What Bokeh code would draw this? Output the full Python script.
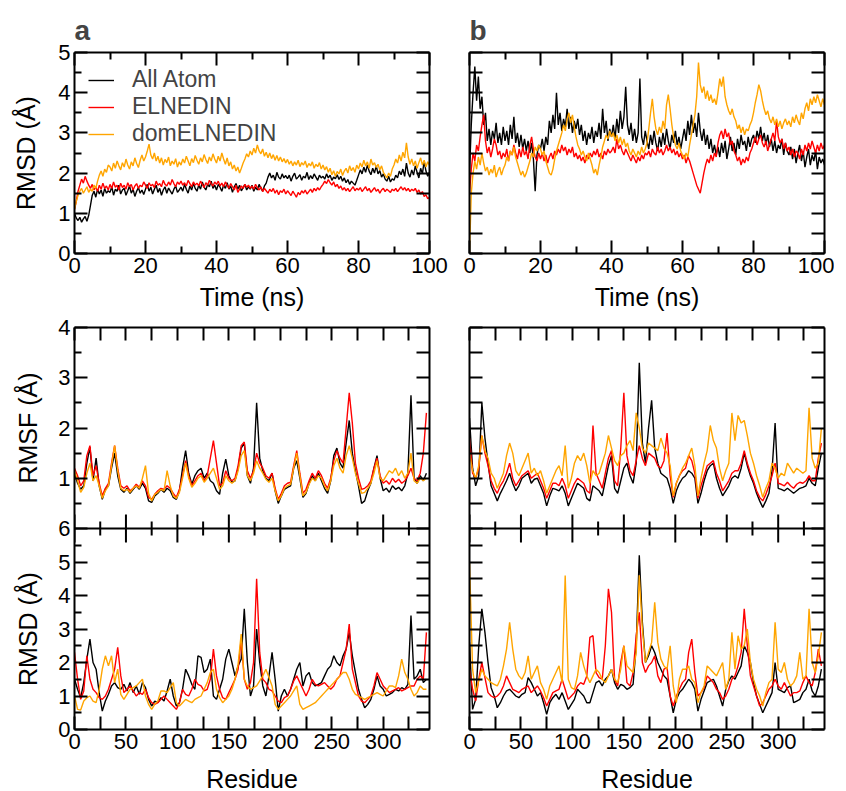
import math
from bokeh.plotting import figure
from bokeh.models import Range1d, LinearAxis, FixedTicker, Legend, LegendItem, Label, Span
from bokeh.layouts import row, column
from bokeh.embed import file_html
from bokeh.resources import INLINE

FONT = "Liberation Sans"
C_AA = "#000000"
C_EL = "#ff0000"
C_DOM = "#ffa500"
SERIES_NAMES = ["All Atom", "ELNEDIN", "domELNEDIN"]

# ---------------- tick values ----------------
TIME_MAJOR = [0, 20, 40, 60, 80, 100]
TIME_MINOR = [10, 30, 50, 70, 90]
RMSD_T_MAJOR = [0, 1, 2, 3, 4, 5]
RMSD_T_MINOR = [0.5, 1.5, 2.5, 3.5, 4.5]
RES_MAJOR = [0, 50, 100, 150, 200, 250, 300]
RES_MINOR = [25, 75, 125, 175, 225, 275, 325]
RMSD_R_MAJOR = [0, 1, 2, 3, 4, 5, 6]
RMSD_R_MINOR = [0.5, 1.5, 2.5, 3.5, 4.5, 5.5]
RMSF_MAJOR = [1, 2, 3, 4]
RMSF_MINOR = [0.5, 1.5, 2.5, 3.5]

# ---------------- sampling grids ----------------
TIME_NS = [i * 0.5 for i in range(201)]
RESIDUE = list(range(0, 343, 3))

# ---------------- panel a : RMSD vs time ----------------
AA_T_A = [1.00, 0.88, 0.82, 0.90, 0.78, 0.86, 0.92, 0.80, 0.95, 1.20, 1.45, 1.55, 1.40, 1.60, 1.48, 1.58, 1.42, 1.62, 1.50, 1.56,
          1.52, 1.66, 1.45, 1.60, 1.55, 1.70, 1.48, 1.58, 1.62, 1.45, 1.56, 1.68, 1.50, 1.60, 1.42, 1.55, 1.64, 1.50, 1.58, 1.47,
          1.60, 1.72, 1.55, 1.65, 1.48, 1.60, 1.70, 1.52, 1.62, 1.45, 1.58, 1.66, 1.50, 1.63, 1.55, 1.48, 1.60, 1.68, 1.52, 1.58,
          1.65, 1.55, 1.72, 1.60, 1.50, 1.68, 1.58, 1.75, 1.62, 1.55, 1.70, 1.60, 1.78, 1.65, 1.58, 1.72, 1.66, 1.80, 1.62, 1.70,
          1.58, 1.72, 1.65, 1.55, 1.70, 1.62, 1.76, 1.60, 1.68, 1.52, 1.66, 1.74, 1.60, 1.70, 1.56, 1.64, 1.72, 1.58, 1.66, 1.60,
          1.70, 1.55, 1.65, 1.58, 1.72, 1.62, 1.55, 1.68, 1.75, 1.90, 2.00, 1.88, 1.95, 1.82, 2.02, 1.90, 1.85, 1.98, 1.88, 1.94,
          1.86, 1.95, 1.80, 1.92, 2.00, 1.85, 1.90, 1.96, 1.82, 1.92, 1.88, 2.02, 1.84, 1.94, 1.86, 1.98, 1.90, 1.82, 1.95, 1.88,
          1.92, 1.85, 1.98, 1.88, 1.95, 1.82, 1.90, 1.86, 1.96, 1.84, 1.92, 1.80, 1.88, 1.76, 1.84, 1.72, 1.80, 1.75, 1.70, 1.82,
          1.95, 2.08, 1.98, 2.15, 2.02, 2.20, 2.05, 1.96, 2.12, 2.00, 2.18, 1.98, 2.06, 1.90, 1.98, 1.85, 1.80, 1.92, 1.78, 1.86,
          1.82, 1.95, 1.88, 2.05, 1.96, 2.10, 1.92, 2.25, 2.00, 1.90, 2.08, 1.95, 2.18, 2.02, 1.88, 2.12, 1.98, 2.30, 2.05, 1.92,
          2.02]
EL_T_A = [1.10, 1.30, 1.55, 1.70, 1.85, 1.75, 1.92, 1.80, 1.70, 1.62, 1.72, 1.58, 1.65, 1.55, 1.70, 1.60, 1.75, 1.62, 1.68, 1.58,
          1.72, 1.62, 1.78, 1.65, 1.70, 1.58, 1.75, 1.64, 1.70, 1.60, 1.76, 1.66, 1.72, 1.58, 1.68, 1.74, 1.62, 1.70, 1.66, 1.78,
          1.70, 1.62, 1.76, 1.68, 1.72, 1.64, 1.80, 1.70, 1.74, 1.66, 1.82, 1.72, 1.68, 1.78, 1.70, 1.84, 1.74, 1.66, 1.78, 1.72,
          1.80, 1.70, 1.76, 1.68, 1.82, 1.74, 1.66, 1.78, 1.70, 1.75, 1.68, 1.80, 1.72, 1.64, 1.76, 1.70, 1.82, 1.74, 1.68, 1.78,
          1.72, 1.80, 1.68, 1.75, 1.66, 1.78, 1.70, 1.62, 1.74, 1.66, 1.58, 1.70, 1.52, 1.60, 1.68, 1.62, 1.72, 1.65, 1.70, 1.62,
          1.68, 1.60, 1.72, 1.64, 1.58, 1.66, 1.54, 1.62, 1.56, 1.50, 1.60, 1.54, 1.62, 1.50, 1.58, 1.46, 1.56, 1.52, 1.60, 1.48,
          1.56, 1.50, 1.44, 1.55, 1.48, 1.40, 1.52, 1.46, 1.56, 1.50, 1.58, 1.48, 1.54, 1.60, 1.52, 1.62, 1.56, 1.64, 1.58, 1.66,
          1.72, 1.80, 1.74, 1.84, 1.76, 1.70, 1.78, 1.66, 1.72, 1.62, 1.68, 1.58, 1.64, 1.56, 1.62, 1.54, 1.60, 1.66, 1.56, 1.62,
          1.58, 1.64, 1.54, 1.60, 1.66, 1.56, 1.62, 1.52, 1.58, 1.64, 1.55, 1.60, 1.50, 1.58, 1.62, 1.54, 1.60, 1.56, 1.52, 1.60,
          1.56, 1.62, 1.54, 1.60, 1.66, 1.58, 1.64, 1.56, 1.62, 1.54, 1.60, 1.56, 1.62, 1.52, 1.58, 1.48, 1.54, 1.42, 1.46, 1.36,
          1.40]
DOM_T_A = [1.10, 1.30, 1.45, 1.55, 1.62, 1.50, 1.58, 1.66, 1.52, 1.60, 1.55, 1.70, 1.62, 1.80, 1.95, 2.05, 1.92, 2.10, 2.02, 2.20,
           2.15, 2.05, 2.25, 2.12, 2.30, 2.18, 2.08, 2.26, 2.15, 2.35, 2.20, 2.10, 2.28, 2.18, 2.38, 2.24, 2.14, 2.32, 2.45, 2.30,
           2.40, 2.55, 2.72, 2.45, 2.35, 2.50, 2.30, 2.42, 2.25, 2.38, 2.20, 2.34, 2.26, 2.40, 2.18, 2.30, 2.22, 2.36, 2.15, 2.28,
           2.20, 2.35, 2.25, 2.42, 2.30, 2.18, 2.36, 2.26, 2.44, 2.32, 2.22, 2.38, 2.28, 2.46, 2.34, 2.24, 2.40, 2.30, 2.48, 2.35,
           2.25, 2.42, 2.30, 2.50, 2.35, 2.22, 2.38, 2.18, 2.28, 2.10, 2.20, 2.05, 2.15, 2.00, 2.12, 2.25, 2.35, 2.48, 2.40, 2.55,
           2.45, 2.62, 2.50, 2.70, 2.55, 2.48, 2.60, 2.42, 2.52, 2.38, 2.50, 2.36, 2.46, 2.32, 2.44, 2.30, 2.40, 2.28, 2.36, 2.25,
           2.34, 2.22, 2.30, 2.18, 2.28, 2.20, 2.32, 2.16, 2.26, 2.20, 2.30, 2.14, 2.24, 2.18, 2.28, 2.12, 2.22, 2.16, 2.26, 2.10,
           2.20, 2.08, 2.16, 2.02, 2.12, 1.96, 2.06, 1.92, 2.04, 1.98, 2.10, 1.94, 2.05, 2.12, 2.00, 2.18, 2.06, 2.14, 2.02, 2.20,
           2.10, 2.25, 2.15, 2.32, 2.18, 2.28, 2.12, 2.35, 2.20, 2.26, 2.14, 2.22, 2.08, 2.18, 2.02, 1.95, 1.88, 2.00, 1.92, 2.10,
           2.20, 2.35, 2.25, 2.45, 2.30, 2.52, 2.38, 2.75, 2.40, 2.22, 2.35, 2.18, 2.30, 2.12, 2.26, 2.38, 2.20, 2.32, 2.15, 2.28,
           2.20]

# ---------------- panel b : RMSD vs time ----------------
AA_T_B = [2.00, 3.20, 4.00, 4.65, 3.80, 4.40, 3.60, 3.90, 3.20, 3.50, 2.80, 3.10, 2.70, 3.05, 2.85, 3.25, 2.75, 3.00, 2.70, 3.15,
          2.80, 3.05, 2.70, 3.20, 2.85, 3.40, 2.75, 3.00, 2.65, 2.95, 2.60, 2.85, 2.55, 2.80, 2.50, 2.75, 2.35, 1.55, 2.45, 2.70,
          2.60, 2.85, 2.55, 2.90, 2.70, 3.30, 3.00, 3.45, 3.10, 4.00, 3.20, 3.50, 3.05, 3.35, 3.15, 3.60, 3.10, 3.40, 3.00, 3.30,
          3.10, 3.35, 2.95, 3.20, 2.80, 3.05, 2.70, 3.00, 2.85, 3.15, 2.75, 3.05, 2.90, 3.25, 2.85, 3.60, 3.00, 3.30, 2.80, 3.10,
          2.90, 3.20, 2.85, 3.35, 3.00, 3.55, 3.10, 3.40, 4.15, 3.20, 2.95, 3.25, 2.80, 3.10, 2.75, 3.00, 4.35, 2.90, 2.70, 3.05,
          2.80, 2.60, 2.95, 2.70, 3.05, 2.75, 2.55, 2.90, 2.65, 3.00, 2.70, 3.10, 2.80, 2.60, 2.95, 2.75, 3.05, 2.70, 2.90, 2.60,
          2.85, 3.10, 2.80, 3.30, 2.95, 3.45, 3.00, 3.25, 2.90, 3.50, 3.05, 2.80, 3.10, 2.70, 2.95, 2.60, 2.85, 2.50, 2.70, 2.45,
          2.65, 2.40, 2.75, 2.50, 2.80, 2.35, 2.60, 2.90, 2.55, 2.75, 2.45, 2.85, 2.60, 2.95, 2.70, 2.80, 2.55, 2.90, 2.65, 2.85,
          2.95, 2.75, 3.05, 2.85, 3.15, 2.80, 3.00, 2.70, 2.95, 2.65, 2.85, 2.55, 2.80, 2.50, 2.70, 2.60, 2.85, 2.45, 2.75, 2.55,
          2.45, 2.65, 2.35, 2.60, 2.25, 2.50, 2.70, 2.30, 2.55, 2.15, 2.40, 2.60, 2.20, 2.45, 2.30, 2.55, 2.10, 2.40, 2.25, 2.35,
          2.20]
EL_T_B = [1.50, 2.10, 2.50, 2.30, 2.70, 2.55, 2.90, 3.20, 3.45, 2.80, 2.50, 2.65, 2.40, 2.60, 2.85, 2.70, 2.45, 2.55, 2.35, 2.50,
          2.40, 2.60, 2.30, 2.55, 2.45, 2.70, 2.50, 2.35, 2.60, 2.40, 2.65, 2.45, 2.55, 2.35, 2.70, 2.90, 2.60, 2.40, 2.30, 2.50,
          2.35, 2.50, 2.30, 2.45, 2.25, 2.40, 2.50, 2.35, 2.55, 2.45, 2.60, 2.50, 2.70, 2.55, 2.65, 2.45, 2.60, 2.50, 2.65, 2.40,
          2.50, 2.35, 2.45, 2.30, 2.40, 2.25, 2.45, 2.35, 2.50, 2.40, 2.55, 2.45, 2.60, 2.40, 2.50, 2.35, 2.55, 2.45, 2.60, 2.50,
          2.55, 2.65, 2.50, 2.85, 2.60, 2.70, 2.55, 2.45, 2.60, 2.50, 2.40, 2.30, 2.45, 2.35, 2.25, 2.40, 2.30, 2.45, 2.35, 2.50,
          2.45, 2.55, 2.40, 2.60, 2.50, 2.45, 2.65, 2.50, 2.60, 2.45, 2.55, 2.70, 2.55, 2.65, 2.50, 2.60, 2.45, 2.55, 2.40, 2.50,
          2.35, 2.45, 2.25, 2.40, 2.30, 2.15, 2.00, 1.85, 1.70, 1.60, 1.50, 1.75, 2.00, 2.20, 2.35, 2.25, 2.45, 2.30, 2.50, 2.40,
          2.75, 2.95, 3.05, 2.85, 3.10, 2.90, 3.00, 2.70, 2.80, 2.55, 2.45, 2.30, 2.40, 2.20, 2.35, 2.25, 2.40, 2.30, 2.50, 2.60,
          2.75, 2.90, 2.70, 2.85, 2.95, 2.75, 2.65, 2.80, 2.55, 2.70, 2.85, 3.00, 2.80, 3.30, 2.90, 2.75, 2.85, 2.60, 2.75, 2.55,
          2.65, 2.45, 2.60, 2.40, 2.55, 2.50, 2.35, 2.60, 2.45, 2.70, 2.55, 2.75, 2.60, 2.80, 2.65, 2.50, 2.70, 2.55, 2.75, 2.60,
          2.70]
DOM_T_B = [0.00, 1.50, 2.00, 2.30, 2.10, 2.40, 2.20, 2.50, 2.25, 2.05, 2.15, 1.95, 2.10, 2.00, 2.20, 1.90, 2.05, 2.15, 1.95, 2.10,
           2.20, 2.40, 2.30, 2.55, 2.45, 2.65, 2.40, 2.25, 2.10, 1.95, 2.05, 1.90, 2.00, 2.15, 2.30, 2.50, 2.40, 2.65, 2.55, 2.70,
           2.60, 2.45, 2.55, 2.30, 2.15, 2.00, 1.95, 2.10, 2.35, 2.55, 2.70, 2.85, 3.00, 3.20, 3.05, 3.35, 3.50, 3.25, 3.45, 3.15,
           2.90, 2.70, 2.60, 2.45, 2.55, 2.40, 2.30, 2.50, 2.35, 2.20, 2.00, 2.10, 1.95, 2.20, 2.40, 2.65, 2.80, 2.95, 2.85, 3.05,
           2.90, 3.00, 2.80, 2.95, 2.75, 2.90, 2.70, 2.85, 2.65, 2.75, 2.55, 2.45, 2.60, 2.50, 2.40, 2.55, 2.45, 2.65, 2.50, 2.60,
           2.75, 3.10, 3.50, 3.85, 3.40, 3.10, 2.95, 3.15, 3.00, 3.30, 3.10, 3.70, 3.95, 3.60, 3.20, 2.90, 2.70, 2.60, 2.75, 2.55,
           2.45, 2.35, 2.50, 2.40, 2.70, 2.95, 3.20, 3.45, 3.90, 4.75, 4.20, 4.00, 4.15, 3.85, 4.05, 3.80, 3.95, 3.75, 3.85, 3.70,
           4.00, 4.35, 4.15, 4.40, 3.90, 3.70, 3.55, 3.45, 3.60, 3.40, 3.30, 3.10, 3.20, 3.00, 3.15, 2.95, 3.10, 3.05, 3.20, 3.30,
           3.50, 3.75, 3.95, 4.20, 4.05, 3.80, 3.60, 3.45, 3.55, 3.35, 3.25, 3.40, 3.20, 3.35, 3.15, 3.30, 3.10, 3.25, 3.35, 3.20,
           3.30, 3.15, 3.40, 3.25, 3.45, 3.30, 3.20, 3.50, 3.35, 3.60, 3.75, 3.55, 3.85, 3.70, 3.90, 3.75, 3.95, 3.80, 3.65, 3.85,
           3.70]

# ---------------- panel a : RMSF per residue ----------------
AA_F_A = [1.10, 0.90, 0.78, 0.85, 1.30, 1.62, 0.95, 1.40, 0.85, 0.58,
          0.78, 0.85, 1.20, 1.50, 1.05, 0.78, 0.72, 0.80, 0.70, 0.78,
          0.85, 0.78, 0.90, 0.80, 0.55, 0.52, 0.65, 0.70, 0.78, 0.72,
          0.80, 0.75, 0.62, 0.58, 0.75, 1.20, 1.55, 1.10, 0.88, 1.05,
          1.15, 1.20, 1.00, 1.10, 0.95, 0.90, 0.75, 0.68, 1.10, 1.38,
          1.05, 0.92, 0.95, 1.20, 1.60, 1.70, 1.05, 0.90, 1.20, 2.50,
          1.40, 1.15, 1.00, 0.95, 1.10, 0.75, 0.50, 0.65, 0.78, 0.82,
          0.85, 1.20, 1.35, 1.00, 0.62, 0.70, 0.90, 1.05, 0.95, 1.10,
          0.95, 0.80, 0.70, 0.95, 1.45, 1.60, 1.30, 1.20, 1.70, 2.15,
          1.50, 1.15, 0.85, 0.50, 0.55, 0.75, 0.90, 1.20, 1.45, 1.00,
          0.75, 0.80, 0.72, 0.85, 0.78, 0.82, 0.75, 0.85, 1.10, 2.65,
          1.00, 0.90, 1.05, 0.95, 1.10]
EL_F_A = [1.20, 1.05, 0.85, 0.95, 1.45, 1.65, 1.05, 1.25, 0.90, 0.65,
          0.80, 0.90, 1.30, 1.65, 1.20, 0.85, 0.80, 0.85, 0.75, 0.80,
          0.88, 0.82, 0.95, 0.85, 0.62, 0.58, 0.68, 0.75, 0.80, 0.78,
          0.85, 0.80, 0.70, 0.62, 0.78, 1.05, 1.35, 1.05, 0.85, 0.95,
          1.05, 1.10, 0.95, 1.05, 1.40, 1.75, 1.30, 0.85, 0.90, 1.15,
          1.00, 0.95, 1.00, 1.25, 1.65, 1.72, 1.15, 1.00, 1.15, 1.50,
          1.30, 1.20, 1.05, 1.00, 1.10, 0.80, 0.58, 0.70, 0.85, 0.90,
          0.92, 1.25, 1.55, 1.10, 0.70, 0.78, 0.95, 1.10, 1.00, 1.15,
          1.05, 0.90, 0.80, 1.00, 1.35, 1.55, 1.40, 1.30, 2.00, 2.70,
          2.10, 1.30, 1.00, 0.78, 0.80, 0.85, 0.95, 1.20, 1.40, 1.05,
          0.90, 0.95, 0.88, 1.00, 0.92, 0.98, 0.90, 0.95, 1.05, 1.20,
          1.00, 0.95, 1.10, 1.50, 2.30]
DOM_F_A = [1.15, 0.95, 0.72, 0.82, 1.10, 1.30, 0.95, 1.05, 0.85, 0.60,
           0.75, 0.85, 1.25, 1.65, 1.15, 0.80, 0.75, 0.78, 0.72, 0.80,
           0.85, 0.80, 1.00, 1.25, 0.70, 0.55, 0.68, 0.72, 0.78, 0.75,
           1.15, 0.85, 0.65, 0.60, 0.72, 1.00, 1.30, 1.00, 0.82, 0.90,
           1.00, 1.05, 0.92, 1.00, 1.10, 1.20, 1.00, 0.78, 0.85, 1.05,
           0.95, 0.90, 0.95, 1.15, 1.45, 1.55, 1.05, 0.95, 1.10, 1.35,
           1.20, 1.10, 0.98, 0.92, 1.00, 0.75, 0.55, 0.65, 0.80, 0.85,
           0.88, 1.20, 1.50, 1.05, 0.65, 0.72, 0.88, 1.00, 0.95, 1.05,
           1.00, 0.85, 0.75, 0.95, 1.25, 1.40, 1.20, 1.10, 1.45, 1.65,
           1.40, 1.10, 0.90, 0.70, 0.72, 0.80, 0.90, 1.10, 1.35, 1.00,
           0.95, 1.05, 1.15, 1.10, 1.20, 1.05, 1.15, 1.00, 1.10, 1.50,
           0.95, 0.90, 1.00, 0.95, 1.00]

# ---------------- panel a : RMSD per residue ----------------
AA_D_A = [1.50, 1.20, 0.95, 1.40, 2.10, 2.70, 2.00, 1.80, 1.10, 0.55,
          0.85, 1.05, 1.30, 1.40, 1.25, 1.20, 1.35, 1.15, 1.40, 1.10,
          1.30, 1.05, 1.40, 1.25, 0.90, 0.70, 0.85, 0.80, 0.95, 0.85,
          1.15, 1.50, 1.00, 0.70, 0.80, 1.20, 1.80, 1.60, 1.35, 1.20,
          2.20, 2.15, 1.70, 1.80, 2.10, 1.00, 0.90, 1.20, 1.50, 2.10,
          2.40, 2.00, 1.60, 1.90, 2.10, 3.60, 2.00, 1.00, 1.30, 3.00,
          2.00, 1.30, 1.00, 1.60, 2.30, 1.50, 0.55, 1.00, 1.20, 1.00,
          1.20, 1.50, 1.80, 2.00, 1.30, 1.60, 1.70, 1.40, 1.30, 1.35,
          1.40, 1.60, 1.80, 1.90, 2.20, 2.00, 1.90, 2.20, 2.40, 2.90,
          2.20, 1.70, 1.20, 0.90, 0.65, 0.75, 0.90, 1.20, 1.60, 1.30,
          1.20, 1.00, 1.05, 1.10, 1.20, 1.15, 1.25, 1.20, 1.35, 3.40,
          1.50, 1.60, 1.80, 1.40, 1.50]
EL_D_A = [2.30, 1.50, 0.90, 1.15, 2.20, 1.50, 1.20, 1.10, 0.95, 0.90,
          1.00, 1.20, 1.50, 1.80, 2.45, 1.60, 1.10, 1.20, 1.30, 1.15,
          1.00, 1.10, 1.05, 1.20, 0.95, 0.80, 0.75, 0.80, 0.90, 1.00,
          0.90, 0.80, 0.70, 0.60, 0.80, 1.20, 1.05, 1.00, 1.20, 1.50,
          1.35, 1.30, 1.15, 1.20, 1.50, 2.40, 1.60, 1.20, 0.95, 0.90,
          1.10, 1.30, 1.50, 1.80, 2.70, 1.50, 1.20, 1.40, 2.00, 4.50,
          2.30, 1.50, 1.40, 1.20, 1.15, 1.00, 0.85, 0.80, 0.95, 1.00,
          1.20, 1.45, 1.60, 1.40, 1.20, 1.00, 1.20, 1.50, 1.35, 1.30,
          1.35, 1.40, 1.30, 1.20, 1.30, 1.50, 1.60, 2.00, 2.40, 3.15,
          1.80, 1.40, 1.00, 0.85, 0.80, 0.90, 1.00, 1.30, 1.70, 1.50,
          1.30, 1.20, 1.10, 1.15, 1.20, 1.25, 1.15, 1.20, 1.25, 1.30,
          1.30, 1.50, 1.60, 1.50, 2.90]
DOM_D_A = [1.00, 0.60, 0.58, 0.85, 0.95, 1.00, 0.85, 0.80, 1.20, 1.80,
           2.20, 1.90, 2.20, 1.40, 1.80, 1.05, 0.90, 1.05, 1.20, 1.25,
           1.30, 1.40, 1.50, 1.00, 0.75, 0.60, 0.75, 0.85, 1.15, 1.15,
           1.10, 1.25, 1.40, 0.80, 0.70, 0.80, 0.90, 0.85, 0.80, 0.90,
           0.95, 1.00, 1.20, 1.40, 1.70, 1.80, 1.20, 0.95, 0.80, 0.90,
           1.00, 1.20, 1.50, 1.95, 2.85, 1.50, 1.30, 1.20, 1.25, 1.30,
           1.45, 1.60, 1.80, 1.55, 1.30, 0.75, 0.60, 0.70, 0.80, 0.90,
           1.00, 1.15, 1.30, 0.75, 0.60, 0.65, 0.70, 0.75, 0.80, 0.90,
           1.00, 1.10, 1.20, 1.30, 1.40, 1.50, 1.60, 1.70, 1.70, 1.50,
           1.20, 1.05, 1.00, 0.95, 0.90, 0.95, 1.00, 1.05, 1.10, 1.05,
           1.00, 1.15, 1.30, 1.30, 1.25, 1.60, 2.10, 1.70, 1.50, 1.20,
           1.00, 1.10, 1.30, 1.20, 1.20]

# ---------------- panel b : RMSF per residue ----------------
AA_F_B = [2.20, 1.20, 0.85, 1.05, 2.50, 1.80, 1.30, 0.85, 0.70, 0.55,
          0.70, 0.82, 0.95, 1.10, 0.90, 0.75, 0.85, 1.00, 1.05, 1.10,
          0.90, 0.98, 1.00, 0.85, 0.70, 0.45, 0.65, 0.80, 0.78, 0.75,
          0.85, 0.70, 0.45, 0.60, 0.75, 0.90, 0.85, 0.80, 0.60, 0.55,
          0.85, 0.80, 0.75, 0.65, 0.95, 1.25, 1.45, 0.80, 0.70, 0.95,
          1.20, 1.30, 1.05, 0.90, 1.30, 3.30, 1.70, 1.30, 2.00, 2.55,
          1.60, 1.30, 1.10, 1.05, 1.00, 0.80, 0.50, 0.75, 0.90, 1.00,
          1.05, 1.15, 1.10, 1.00, 0.50, 0.70, 0.95, 1.15, 1.25, 1.30,
          1.00, 0.80, 0.65, 0.75, 0.85, 1.00, 1.05, 1.00, 1.20, 1.50,
          1.25, 1.05, 0.90, 0.70, 0.55, 0.42, 0.55, 0.70, 1.15, 2.10,
          0.80, 0.78, 0.75, 0.80, 0.75, 0.70, 0.75, 0.80, 0.82, 0.85,
          1.00, 0.90, 0.85, 1.20, 1.50]
EL_F_B = [1.80, 1.10, 1.00, 1.20, 1.85, 1.50, 1.25, 0.95, 0.80, 0.70,
          0.85, 0.95, 1.10, 1.30, 1.00, 0.85, 0.95, 1.05, 1.10, 1.15,
          1.00, 1.05, 1.10, 0.95, 0.80, 0.60, 0.75, 0.90, 0.90, 0.85,
          1.00, 0.85, 0.60, 0.75, 0.90, 1.00, 0.95, 0.90, 0.75, 0.70,
          2.05, 1.10, 0.95, 0.80, 1.10, 1.40, 1.55, 0.95, 0.85, 1.60,
          2.70, 1.45, 1.15, 1.05, 1.35, 1.65, 1.40, 1.25, 1.50, 1.45,
          1.40, 1.25, 1.20, 1.35, 1.90, 1.05, 0.62, 0.90, 1.05, 1.15,
          1.20, 1.45, 1.35, 1.10, 0.60, 0.85, 1.05, 1.25, 1.30, 1.35,
          1.10, 0.95, 0.75, 0.85, 0.95, 1.10, 1.15, 1.15, 1.30, 1.55,
          1.30, 1.10, 0.95, 0.75, 0.62, 0.55, 0.68, 0.85, 1.05, 1.30,
          0.90, 0.88, 0.85, 0.92, 0.85, 0.80, 0.88, 0.92, 0.90, 0.95,
          1.05, 0.95, 0.95, 1.40, 1.70]
DOM_F_B = [1.50, 1.15, 1.00, 1.25, 1.85, 1.55, 1.40, 1.10, 1.00, 0.80,
           0.95, 1.10, 1.45, 1.70, 1.50, 1.15, 1.05, 1.20, 1.35, 1.50,
           1.10, 1.20, 1.05, 1.15, 0.95, 0.70, 0.85, 1.00, 1.15, 1.25,
           1.05, 1.65, 0.80, 1.00, 1.30, 1.45, 1.35, 1.50, 1.25, 0.90,
           1.15, 1.05, 1.10, 1.30, 1.50, 1.85, 1.60, 1.35, 1.25, 1.45,
           1.50, 1.65, 1.75, 1.55, 2.30, 2.00, 1.60, 1.50, 1.70, 1.65,
           1.60, 1.55, 1.80, 1.60, 1.50, 1.25, 0.65, 0.90, 1.05, 1.20,
           1.30, 1.45, 1.60, 1.25, 0.65, 1.00, 1.30, 1.55, 2.05, 1.75,
           1.60, 1.20, 0.95, 1.15, 1.30, 2.30, 1.75, 2.25, 2.10, 2.15,
           1.85, 1.50, 1.30, 1.05, 0.85, 0.62, 0.80, 0.95, 1.30, 1.20,
           1.00, 1.10, 1.05, 1.30, 1.20, 1.10, 1.20, 1.15, 1.10, 1.15,
           2.40, 1.40, 1.20, 1.30, 2.00]

# ---------------- panel b : RMSD per residue ----------------
AA_D_B = [2.60, 0.60, 0.90, 2.50, 3.60, 2.90, 2.00, 1.25, 1.00, 0.65,
          0.80, 1.00, 1.15, 1.20, 1.10, 1.00, 0.95, 1.05, 1.10, 1.55,
          1.40, 1.20, 1.00, 1.10, 0.80, 0.45, 0.80, 0.95, 1.05, 0.90,
          1.10, 0.85, 0.60, 0.75, 0.90, 1.20, 1.10, 1.00, 0.80, 0.80,
          1.10, 1.40, 1.45, 1.30, 1.50, 1.60, 1.80, 1.40, 1.20, 1.35,
          1.30, 1.20, 1.25, 1.35, 2.50, 5.20, 3.20, 2.00, 2.20, 2.50,
          2.30, 2.00, 1.80, 1.60, 1.50, 1.00, 0.50, 0.90, 1.10, 1.20,
          1.35, 1.50, 1.40, 1.20, 0.55, 0.90, 1.15, 1.40, 1.45, 1.50,
          1.30, 1.00, 0.70, 1.20, 1.45, 1.60, 1.50, 1.70, 1.90, 2.50,
          2.30, 2.00, 1.40, 1.00, 0.75, 0.50, 0.70, 0.90, 1.10, 2.00,
          1.20, 1.15, 1.10, 1.25, 1.30, 0.80, 0.85, 0.90, 1.10, 1.20,
          1.50, 1.15, 1.00, 1.30, 1.80]
EL_D_B = [1.80, 1.20, 0.85, 1.50, 2.00, 1.55, 1.10, 1.00, 0.95, 1.00,
          1.10, 1.30, 1.60, 1.40, 1.20, 1.15, 1.10, 1.20, 1.25, 1.30,
          1.10, 1.20, 1.30, 1.15, 0.95, 0.70, 0.90, 1.10, 1.15, 1.20,
          1.50, 1.20, 0.90, 1.00, 1.10, 1.30, 1.40, 1.35, 1.60, 2.75,
          2.80, 1.70, 1.55, 1.50, 2.50, 4.20, 3.50, 1.50, 1.30, 2.00,
          2.50, 1.40, 1.30, 1.70, 2.80, 3.50, 2.00, 1.70, 1.90, 2.00,
          2.20, 1.60, 1.40, 1.80, 1.85, 1.00, 0.70, 1.00, 1.20, 1.40,
          1.50, 2.30, 2.70, 1.70, 1.00, 1.10, 1.25, 1.60, 1.50, 1.40,
          1.20, 1.10, 0.90, 1.00, 1.20, 1.50, 1.60, 1.90, 2.30, 3.60,
          2.50, 1.60, 1.30, 1.00, 0.70, 0.80, 1.00, 1.20, 1.30, 1.50,
          1.30, 1.20, 1.40, 1.20, 1.00, 1.10, 1.10, 1.15, 1.40, 1.60,
          1.40, 1.30, 1.70, 2.40, 1.90]
DOM_D_B = [5.00, 1.80, 1.10, 1.45, 1.80, 1.60, 1.50, 1.40, 1.35, 1.30,
           1.50, 1.90, 2.40, 3.20, 2.40, 1.80, 1.60, 1.50, 1.70, 2.20,
           1.50, 1.70, 1.90, 1.40, 1.20, 0.90, 1.30, 1.50, 1.70, 1.90,
           1.40, 4.60, 1.50, 1.25, 1.20, 1.60, 2.30, 1.90, 1.60, 1.40,
           1.60, 1.80, 1.70, 1.50, 1.40, 1.60, 1.80, 1.50, 1.40, 1.80,
           2.50, 1.90, 1.80, 1.70, 2.30, 4.60, 3.00, 2.00, 2.30, 2.60,
           3.80, 2.60, 2.10, 1.90, 1.80, 2.50, 1.30, 0.80, 1.50, 1.80,
           1.80, 1.90, 1.50, 1.40, 0.80, 1.10, 1.30, 1.90, 1.80, 1.70,
           1.60, 1.80, 2.00, 1.20, 1.50, 2.90, 1.80, 2.80, 2.40, 2.50,
           3.00, 2.00, 1.50, 1.20, 1.00, 0.70, 1.10, 1.40, 1.50, 3.20,
           1.80, 1.70, 2.00, 1.50, 1.30, 1.40, 1.60, 2.30, 1.50, 1.60,
           3.60, 2.00, 1.70, 2.20, 2.90]

# ---------------- layout constants ----------------
FRAME_W = 355
PANEL_H = 201
MAJ_LEN = 13
MIN_LEN = 7
LW = 1.4
TICK_FS = "22px"
LABEL_FS = "25px"
STRIP_W = 44                        # narrow strip holding the stacked y titles
SPLIT = RMSD_R_MAJOR[-1]            # top of the lower (RMSD) panel
RMSF_TOP = RMSF_MAJOR[-1]           # top of the upper (RMSF) panel
TOP_ROW = dict(top=52, bottom=59)
LOW_ROW = dict(top=14, bottom=56)


def to_shared(v):
    """map an RMSF value onto the shared y scale of the stacked residue figure"""
    return SPLIT + v * SPLIT / RMSF_TOP


def halves(top):
    return [i * 0.5 for i in range(int(top * 2) + 1)]


def style_axis(ax, labels, title_standoff):
    ax.axis_line_width = 2
    ax.axis_line_color = "black"
    ax.major_tick_line_width = 2
    ax.minor_tick_line_width = 2
    ax.major_tick_line_color = "black"
    ax.minor_tick_line_color = "black"
    ax.major_tick_in = MAJ_LEN
    ax.major_tick_out = 0
    ax.minor_tick_in = MIN_LEN
    ax.minor_tick_out = 0
    ax.major_label_text_font = FONT
    if labels:
        ax.major_label_text_font_size = TICK_FS
        ax.major_label_text_color = "black"
        ax.major_label_standoff = 4
    else:
        ax.major_label_text_font_size = "0px"
        ax.major_label_text_color = None
        ax.major_label_standoff = 0
    ax.axis_label_text_font = FONT
    ax.axis_label_text_font_size = LABEL_FS
    ax.axis_label_text_font_style = "normal"
    ax.axis_label_text_color = "black"
    ax.axis_label_standoff = title_standoff


def add_axis(p, side, ticks, minor=(), labels=False, overrides=None, label=None,
             minor_len=MIN_LEN, title_standoff=14):
    ax = LinearAxis(ticker=FixedTicker(ticks=list(ticks), minor_ticks=list(minor)))
    style_axis(ax, labels, title_standoff)
    ax.minor_tick_in = minor_len
    if overrides:
        ax.major_label_overrides = overrides
    if label:
        ax.axis_label = label
    p.add_layout(ax, side)
    return ax


def base_fig(frame_w, x_end, y_end, frame_h, left, right, top, bottom):
    p = figure(frame_width=frame_w, frame_height=frame_h,
               x_range=Range1d(0, x_end), y_range=Range1d(0, y_end),
               output_backend="svg", toolbar_location=None,
               x_axis_location=None, y_axis_location=None,
               min_border_left=left, min_border_right=right,
               min_border_top=top, min_border_bottom=bottom)
    p.grid.visible = False
    p.outline_line_color = None
    p.background_fill_color = "white"
    p.border_fill_color = "white"
    return p


def time_panel(left_col, tag, aa, el, dom, legend):
    p = base_fig(FRAME_W, TIME_MAJOR[-1], RMSD_T_MAJOR[-1], PANEL_H,
                 74 if left_col else 20, 20 if left_col else 10, TOP_ROW["top"], TOP_ROW["bottom"])
    p.title.text = tag
    p.title.text_font = FONT
    p.title.text_font_size = "28px"
    p.title.text_font_style = "bold"
    p.title.align = "left"
    p.title.offset = 0
    p.title.standoff = 14
    rs = []
    for ys, c in ((aa, C_AA), (el, C_EL), (dom, C_DOM)):
        rs.append(p.line(TIME_NS[:len(ys)], ys, line_color=c, line_width=LW))
    add_axis(p, "below", TIME_MAJOR, TIME_MINOR, labels=True, label="Time (ns)", title_standoff=7)
    add_axis(p, "above", TIME_MAJOR, TIME_MINOR)
    if left_col:
        add_axis(p, "left", RMSD_T_MAJOR, RMSD_T_MINOR, labels=True, label="RMSD (Å)", title_standoff=15)
    else:
        add_axis(p, "left", halves(RMSD_T_MAJOR[-1]))
    add_axis(p, "right", halves(RMSD_T_MAJOR[-1]))
    if legend:
        lg = Legend(items=[LegendItem(label=n, renderers=[r]) for n, r in zip(SERIES_NAMES, rs)],
                    location="top_left", margin=14, padding=0, spacing=0,
                    glyph_width=26, glyph_height=22, label_height=22, label_standoff=18,
                    label_text_font=FONT, label_text_font_size="23px",
                    border_line_color=None, background_fill_alpha=0)
        p.add_layout(lg)
    return p


def residue_panel(left_col, f_series, d_series):
    p = base_fig(FRAME_W, 345, 2 * SPLIT, 2 * PANEL_H,
                 74 - STRIP_W if left_col else 20, 20 if left_col else 10,
                 LOW_ROW["top"], LOW_ROW["bottom"])
    p.extra_y_ranges = {"rmsf": Range1d(-RMSF_TOP, RMSF_TOP)}
    for ys, c in zip(f_series, (C_AA, C_EL, C_DOM)):
        p.line(RESIDUE[:len(ys)], ys, line_color=c, line_width=LW, y_range_name="rmsf")
    for ys, c in zip(d_series, (C_AA, C_EL, C_DOM)):
        p.line(RESIDUE[:len(ys)], ys, line_color=c, line_width=LW)

    add_axis(p, "below", RES_MAJOR, RES_MINOR, labels=True, label="Residue",
             minor_len=MAJ_LEN, title_standoff=13)
    add_axis(p, "above", RES_MAJOR, RES_MINOR, minor_len=MAJ_LEN)

    all_half = halves(SPLIT) + [to_shared(v) for v in halves(RMSF_TOP)[1:]]
    if left_col:
        major = RMSD_R_MAJOR + [to_shared(v) for v in RMSF_MAJOR]
        minor = RMSD_R_MINOR + [to_shared(v) for v in RMSF_MINOR]
        ov = {t: str(t) for t in RMSD_R_MAJOR}
        ov.update({to_shared(v): str(v) for v in RMSF_MAJOR})
        add_axis(p, "left", major, minor, labels=True, overrides=ov)
    else:
        add_axis(p, "left", all_half)
    add_axis(p, "right", all_half)

    # boundary between the two stacked panels, with ticks on both sides
    p.add_layout(Span(location=SPLIT, dimension="width", line_color="black", line_width=2))
    upp = 2 * SPLIT / (2 * PANEL_H)
    for xs, L in ((RES_MAJOR, MAJ_LEN + 1), (RES_MINOR, MIN_LEN)):
        p.segment(x0=xs, x1=xs, y0=[SPLIT - L * upp] * len(xs), y1=[SPLIT + L * upp] * len(xs),
                  line_color="black", line_width=2)
    return p


def title_strip():
    """narrow figure carrying the two rotated y-axis titles of the stacked panels"""
    p = base_fig(STRIP_W, STRIP_W, 2 * SPLIT, 2 * PANEL_H, 0, 0, LOW_ROW["top"], LOW_ROW["bottom"])
    for txt, yv in (("RMSD (Å)", SPLIT / 2), ("RMSF (Å)", to_shared(RMSF_TOP / 2))):
        p.add_layout(Label(x=27, y=yv, text=txt, angle=math.pi / 2,
                           text_align="center", text_baseline="middle",
                           text_font=FONT, text_font_size=LABEL_FS, text_color="black"))
    return p


pa = time_panel(True, "a", AA_T_A, EL_T_A, DOM_T_A, legend=True)
pb = time_panel(False, "b", AA_T_B, EL_T_B, DOM_T_B, legend=False)
ra = residue_panel(True, (AA_F_A, EL_F_A, DOM_F_A), (AA_D_A, EL_D_A, DOM_D_A))
rb = residue_panel(False, (AA_F_B, EL_F_B, DOM_F_B), (AA_D_B, EL_D_B, DOM_D_B))
strip = title_strip()

layout = column(row(pa, pb), row(strip, ra, rb))
open("out.html", "w").write(file_html(layout, INLINE))
